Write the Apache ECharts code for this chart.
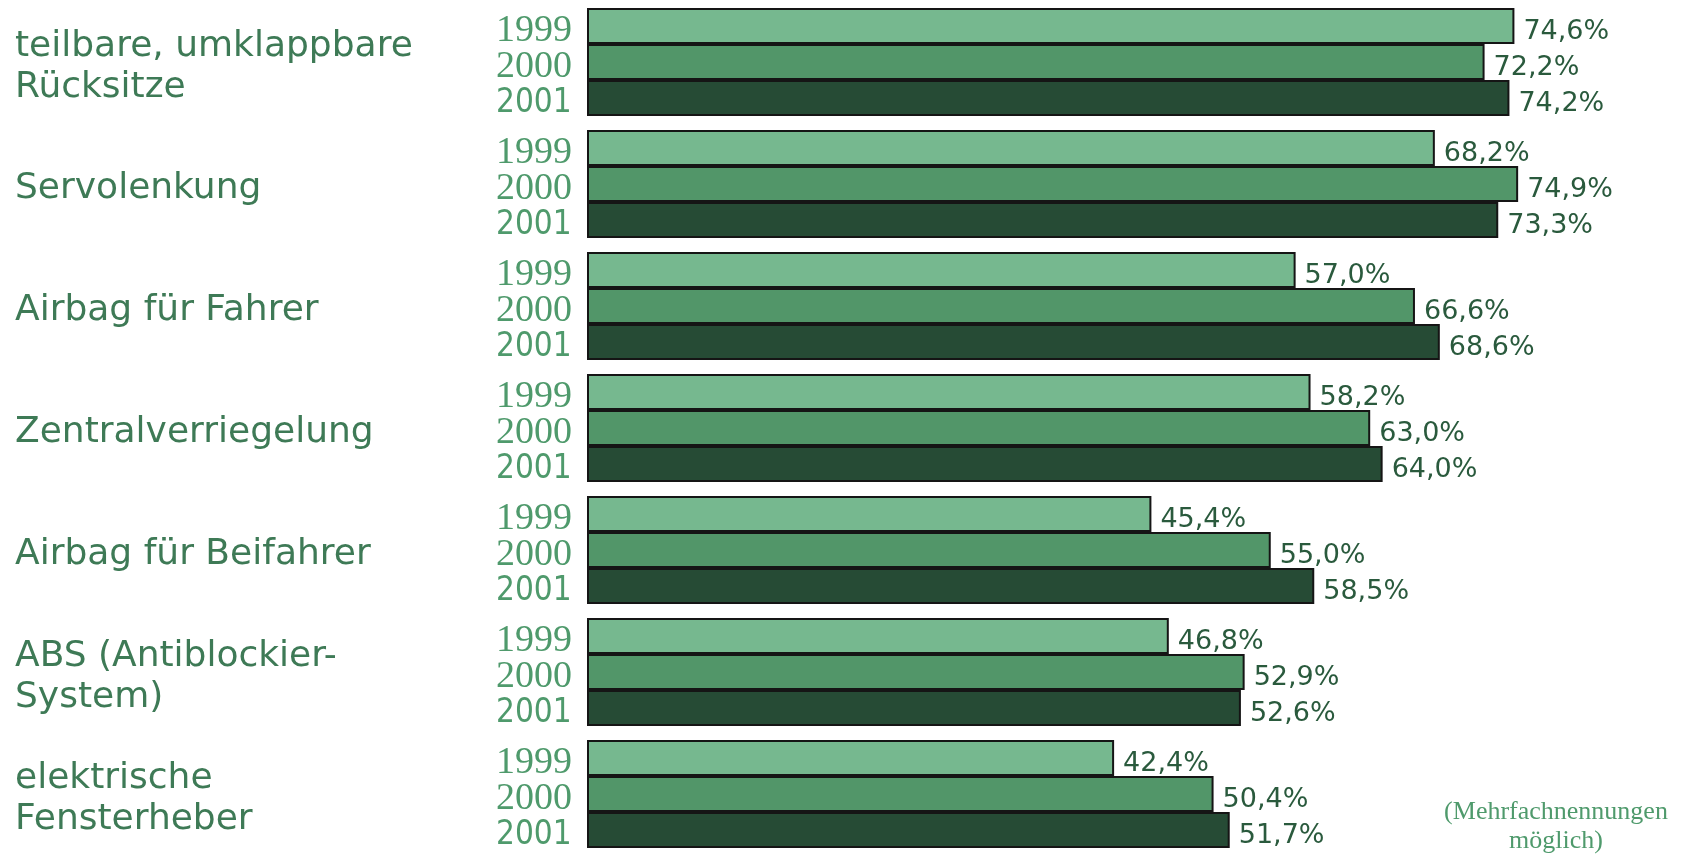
<!DOCTYPE html>
<html>
<head>
<meta charset="utf-8">
<script src="https://cdn.jsdelivr.net/npm/echarts@6/dist/echarts.min.js"></script>
<style>
html,body{margin:0;padding:0;background:#fff;}
#chart{width:1691px;height:855px;}
</style>
</head>
<body>
<div id="chart"></div>
<script>
const categories = ['teilbare, umklappbare\nRücksitze', 'Servolenkung', 'Airbag für Fahrer', 'Zentralverriegelung', 'Airbag für Beifahrer', 'ABS (Antiblockier-\nSystem)', 'elektrische\nFensterheber'];
const years = ['1999', '2000', '2001'];
const v1999 = [74.6, 68.2, 57.0, 58.2, 45.4, 46.8, 42.4];
const v2000 = [72.2, 74.9, 66.6, 63.0, 55.0, 52.9, 50.4];
const v2001 = [74.2, 73.3, 68.6, 64.0, 58.5, 52.6, 51.7];
const footnote = ['(Mehrfachnennungen', 'möglich)'];

const values = [v1999, v2000, v2001];
const barColors = ['#76b88f', '#529669', '#264b35'];
const yearFonts = [
  { fontFamily: "'Liberation Serif', serif", fontSize: 38, fontWeight: 'normal' },
  { fontFamily: "'Liberation Serif', serif", fontSize: 38, fontWeight: 'normal' },
  { fontFamily: "'DejaVu Sans Condensed', sans-serif", fontSize: 33, fontWeight: 300 }
];

const chart = echarts.init(document.getElementById('chart'), null, { renderer: 'canvas' });

const hiddenAxis = {
  type: 'category',
  data: categories,
  inverse: true,
  show: false
};

const series = [];
years.forEach((y, i) => {
  series.push({
    name: y,
    type: 'bar',
    yAxisIndex: 0,
    data: values[i],
    barWidth: 36,
    barGap: '0%',
    itemStyle: { color: barColors[i], borderColor: '#151515', borderWidth: 2 },
    label: {
      show: true,
      position: 'right',
      distance: 9,
      offset: [0, 6],
      formatter: p => p.value.toFixed(1).replace('.', ',') + '%',
      color: '#2a5a3d',
      fontFamily: "'DejaVu Sans', sans-serif",
      fontWeight: 'normal',
      fontSize: 27
    },
    silent: true,
    z: 2
  });
});
years.forEach((y, i) => {
  series.push({
    name: y + '-label',
    type: 'bar',
    yAxisIndex: 1,
    data: values[i],
    barWidth: 36,
    barGap: '0%',
    itemStyle: { color: 'rgba(0,0,0,0)', borderWidth: 0 },
    label: {
      show: true,
      position: [-91, '50%'],
      offset: [0, 5],
      align: 'left',
      verticalAlign: 'middle',
      formatter: () => y,
      color: '#4f9a6c',
      fontFamily: yearFonts[i].fontFamily,
      fontWeight: yearFonts[i].fontWeight,
      fontSize: yearFonts[i].fontSize
    },
    silent: true,
    z: 1
  });
});
// category names, drawn as labels of a transparent band-wide bar on a hidden axis
series.push({
  name: 'categories',
  type: 'bar',
  yAxisIndex: 2,
  data: v1999,
  barWidth: 108,
  itemStyle: { color: 'rgba(0,0,0,0)', borderWidth: 0 },
  label: {
    show: true,
    position: [-572, '50%'],
    offset: [0, 5],
    align: 'left',
    verticalAlign: 'middle',
    formatter: p => categories[p.dataIndex],
    color: '#3e7a56',
    fontFamily: "'DejaVu Sans', sans-serif",
    fontWeight: 'normal',
    fontSize: 36,
    lineHeight: 41
  },
  silent: true,
  z: 0
});

chart.setOption({
  animation: false,
  backgroundColor: '#ffffff',
  grid: { left: 587, top: 1, width: 1094, height: 858, containLabel: false },
  xAxis: { type: 'value', min: 0, max: 88, show: false },
  yAxis: [
    {
      type: 'category',
      data: categories,
      inverse: true,
      axisLine: { show: false },
      axisTick: { show: false },
      axisLabel: { show: false }
    },
    hiddenAxis,
    Object.assign({}, hiddenAxis)
  ],
  series: series,
  graphic: [
    {
      type: 'text',
      x: 1556,
      y: 827,
      style: {
        text: footnote.join('\n'),
        align: 'center',
        verticalAlign: 'middle',
        fill: '#4f9a6c',
        font: "26px 'Liberation Serif', serif",
        lineHeight: 29
      }
    }
  ]
});
</script>
</body>
</html>
